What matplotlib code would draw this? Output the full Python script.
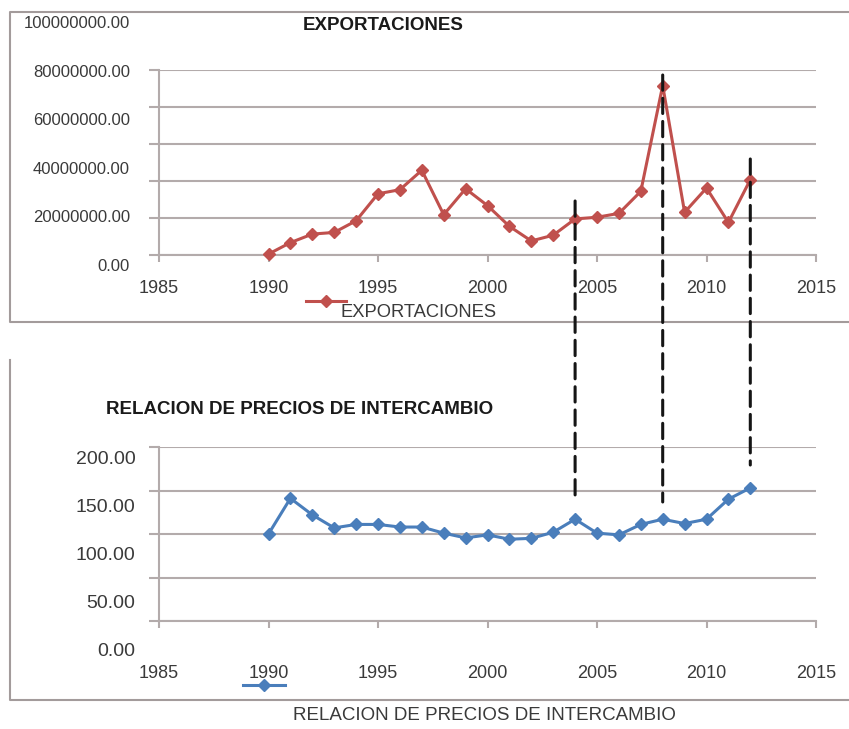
import numpy as np
import matplotlib
matplotlib.use("Agg")
import matplotlib.pyplot as plt
from matplotlib.lines import Line2D
from matplotlib.patches import ConnectionPatch
from matplotlib.ticker import FormatStrFormatter

plt.rcParams['font.family'] = ['Liberation Sans', 'DejaVu Sans']

# ---------------- data ----------------
years = list(range(1990, 2013))
exportaciones = [0.5e6, 6.7e6, 11.3e6, 12.2e6, 18.5e6, 33.1e6, 35.3e6, 45.8e6,
                 21.8e6, 35.8e6, 26.7e6, 15.5e6, 7.6e6, 10.7e6, 19.5e6, 20.4e6,
                 22.5e6, 34.4e6, 91.6e6, 23.1e6, 36.2e6, 17.6e6, 40.7e6]
rpi = [100, 141, 122, 107, 111, 111, 108, 108, 101, 95.5, 99, 94, 95, 102,
       117, 101, 99, 111, 117, 112, 117, 140, 153]

x_ticks = [1985, 1990, 1995, 2000, 2005, 2010, 2015]
top_yticks = [0, 20e6, 40e6, 60e6, 80e6, 100e6]
bot_yticks = [0, 50, 100, 150, 200]

# vertical dashed markers: year, value in top chart, value in bottom chart
mark_years = [2004, 2008, 2012]
mark_top = [29.2e6, 97.3e6, 51.9e6]
mark_bot = [142.5, 136.8, 179.3]

title_top = 'EXPORTACIONES'
title_bot = 'RELACION DE PRECIOS DE INTERCAMBIO'

# ---------------- styling ----------------
W, H = 849, 729
RED = '#C0504D'
BLUE = '#4A7EBB'
GRID = '#B3ABAB'
BOX = '#A39B9B'
TXT = '#3A3A3A'


def fx(px):
    return px / W


def fy(py):
    return 1 - py / H


fig = plt.figure(figsize=(W / 100, H / 100), dpi=100)
fig.patch.set_facecolor('white')

L, R = 159, 816


def style_axes(ax):
    for s in ['top', 'right']:
        ax.spines[s].set_visible(False)
    for s in ['left', 'bottom']:
        ax.spines[s].set_color(GRID)
        ax.spines[s].set_linewidth(1.5)
    ax.grid(axis='y', color=GRID, linewidth=1.5)
    ax.set_axisbelow(True)
    ax.set_xlim(1985, 2015)
    ax.set_xticks(x_ticks)
    ax.tick_params(axis='y', length=7, width=1.5, color=GRID, labelleft=False)
    ax.tick_params(axis='x', length=5, width=1.5, color=GRID, labelsize=13,
                   labelcolor=TXT)


def label_axes(rect, ylim, ticks, fs, pad):
    lab = fig.add_axes(rect)
    lab.set_ylim(*ylim)
    lab.set_yticks(ticks)
    lab.yaxis.set_major_formatter(FormatStrFormatter('%.2f'))
    lab.set_xticks([])
    for s in lab.spines.values():
        s.set_visible(False)
    lab.patch.set_alpha(0)
    lab.tick_params(axis='y', length=0, labelsize=fs, labelcolor=TXT, pad=pad)
    return lab


# ---------------- top chart ----------------
ax1 = fig.add_axes([fx(L), fy(255), fx(R) - fx(L), fy(70) - fy(255)])
style_axes(ax1)
ax1.set_ylim(0, 100e6)
ax1.set_yticks(top_yticks)
ax1.tick_params(axis='x', pad=13)
ax1.plot(years, exportaciones, color=RED, lw=2.2, marker='D', ms=6.5,
         clip_on=False, zorder=3)
label_axes([fx(L), fy(265), 0.001, fy(22) - fy(265)], (0, 100e6), top_yticks,
           12, 21)

# ---------------- bottom chart ----------------
ax2 = fig.add_axes([fx(L), fy(621), fx(R) - fx(L), fy(447) - fy(621)])
style_axes(ax2)
ax2.set_ylim(0, 200)
ax2.set_yticks(bot_yticks)
ax2.tick_params(axis='x', pad=27)
ax2.plot(years, rpi, color=BLUE, lw=2.2, marker='D', ms=6.5, clip_on=False,
         zorder=3)
label_axes([fx(L), fy(650), 0.001, fy(458) - fy(650)], (0, 200), bot_yticks,
           14, 17)

# ---------------- dashed connectors ----------------
for yr, vt, vb in zip(mark_years, mark_top, mark_bot):
    cp = ConnectionPatch(xyA=(yr, vt), coordsA=ax1.transData,
                         xyB=(yr, vb), coordsB=ax2.transData,
                         color='#151515', lw=2.2, linestyle=(0, (5, 2.6)),
                         zorder=10)
    fig.add_artist(cp)

# ---------------- titles ----------------
fig.text(fx(383), fy(25), title_top, ha='center', va='center',
         fontsize=13.5, fontweight='bold', color='#1a1a1a')
fig.text(fx(106), fy(410), title_bot, ha='left', va='center',
         fontsize=13.5, fontweight='bold', color='#1a1a1a')

# ---------------- legends ----------------
fig.add_artist(Line2D([fx(306), fx(326), fx(346)], [fy(301)] * 3,
                      transform=fig.transFigure, color=RED, lw=2.2,
                      marker='D', ms=6.5, markevery=[1]))
fig.text(fx(340), fy(312), title_top, ha='left', va='center', fontsize=13.2,
         color=TXT)
fig.add_artist(Line2D([fx(243), fx(264), fx(285)], [fy(685)] * 3,
                      transform=fig.transFigure, color=BLUE, lw=2.2,
                      marker='D', ms=6.5, markevery=[1]))
fig.text(fx(484), fy(716), title_bot, ha='center', va='center',
         fontsize=13.5, color=TXT)

# ---------------- boxes ----------------
fig.add_artist(Line2D([fx(849), fx(10), fx(10), fx(849)],
                      [fy(12), fy(12), fy(322), fy(322)],
                      transform=fig.transFigure, color=BOX, lw=1.5))
fig.add_artist(Line2D([fx(10), fx(10), fx(849)],
                      [fy(360), fy(700), fy(700)],
                      transform=fig.transFigure, color=BOX, lw=1.5))

fig.savefig('out.png', dpi=100)
